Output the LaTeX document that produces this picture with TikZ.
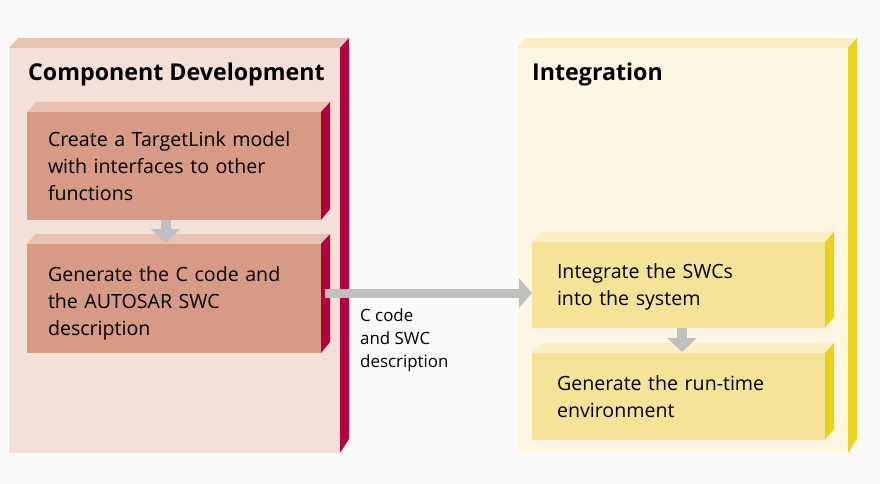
\documentclass[tikz,border=0pt]{standalone}
\usepackage{fontspec}
\setmainfont{Open Sans}
\usetikzlibrary{arrows.meta}
\definecolor{bgc}{HTML}{FAFAFA}
\definecolor{bigLfront}{HTML}{F3E0D7}
\definecolor{bigLtop}{HTML}{E8C4B4}
\definecolor{crimson}{HTML}{B4003C}
\definecolor{inLfront}{HTML}{D69A85}
\definecolor{inLtop}{HTML}{E7C2B2}
\definecolor{bigRfront}{HTML}{FDF6E2}
\definecolor{bigRtop}{HTML}{FBF0C4}
\definecolor{yside}{HTML}{EDD11F}
\definecolor{inRfront}{HTML}{F5E497}
\definecolor{inRtop}{HTML}{FAF0C4}
\definecolor{arrgray}{HTML}{C0C0C0}
\newcommand\boxfaces[4]{%
  \fill[#2] (#1.north west) -- ++(9,-10) -- ([shift={(9,-10)}]#1.north east) -- (#1.north east) -- cycle;
  \fill[#3] (#1.north east) -- ([shift={(9,-10)}]#1.north east) -- ([shift={(9,#4)}]#1.south east) -- (#1.south east) -- cycle;}
\begin{document}
\begin{tikzpicture}[x=1pt,y=-1pt,
  face/.style={rectangle, anchor=north west, inner sep=0pt, outer sep=0pt},
  bigbox/.style={face, minimum width=331pt, minimum height=405pt},
  stepboxL/.style={face, fill=inLfront, text width=252pt, inner xsep=21pt, align=left,
    font=\fontsize{19.6}{27}\selectfont},
  stepboxR/.style={face, fill=inRfront, text width=243pt, inner xsep=25pt, align=left,
    font=\fontsize{19.6}{27}\selectfont},
  title/.style={anchor=west, inner sep=0pt, font=\fontsize{23.2}{26}\selectfont\bfseries},
  downarrow/.style={draw=arrgray, line width=10pt, -{Triangle[width=29pt,length=14pt]}},
  flowarrow/.style={draw=arrgray, line width=9pt, -{Triangle[width=29pt,length=13pt]}}]
\useasboundingbox (0,0) rectangle (880,484);
\fill[bgc] (0,0) rectangle (880,484);
% big boxes
\node[bigbox, fill=bigLfront] (dev) at (9,48) {};
\boxfaces{dev}{bigLtop}{crimson}{-14}
\node[bigbox, fill=bigRfront] (integ) at (517,48) {};
\boxfaces{integ}{bigRtop}{yside}{-14}
\node[title] (devt) at (28,74) {Component Development};
\node[title] (integt) at (532,74) {Integration};
% left step boxes
\node[stepboxL, minimum height=108pt] (b1) at (27,112) {Create a TargetLink model\\with interfaces to other\\functions};
\boxfaces{b1}{inLtop}{crimson}{-11}
\node[stepboxL, minimum height=109pt] (b2) at (27,244) {\rule{0pt}{25pt}Generate the C code and\\the AUTOSAR SWC\\description};
\boxfaces{b2}{inLtop}{crimson}{-11}
% right step boxes
\node[stepboxR, minimum height=86pt] (bA) at (532,242) {\rule{0pt}{19pt}Integrate the SWCs\\into the system};
\boxfaces{bA}{inRtop}{yside}{-11}
\node[stepboxR, minimum height=87pt] (bB) at (532,353) {Generate the run-time\\environment};
\boxfaces{bB}{inRtop}{yside}{-11}
% arrows
\draw[downarrow] ([xshift=-8.5pt]b1.south) -- ([xshift=-8.5pt,yshift=1pt]b2.north);
\draw[downarrow] ([xshift=3.5pt]bA.south) -- ([xshift=3.5pt,yshift=1pt]bB.north);
\coordinate (cs) at (325,293);
\draw[flowarrow] (cs) -- (cs -| bA.west);
\node[anchor=north west, inner sep=0pt, align=left, font=\fontsize{16.9}{23}\selectfont] (lbl) at (360,308) {C code\\and SWC\\description};
\end{tikzpicture}
\end{document}
